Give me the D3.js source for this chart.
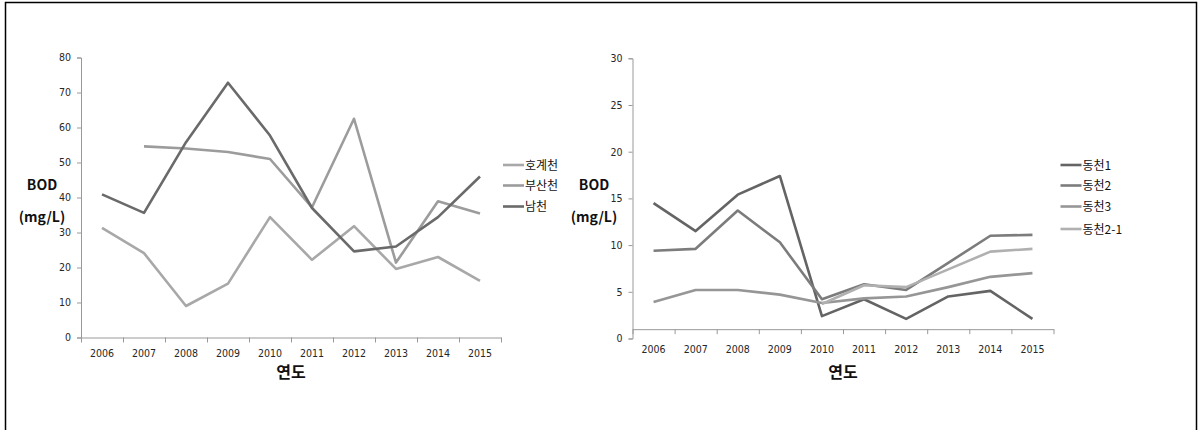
<!DOCTYPE html>
<html>
<head>
<meta charset="utf-8">
<script src="https://cdn.jsdelivr.net/npm/d3@7"></script>
<style>
  body { margin: 0; background: #fff; }
  svg { display: block; }
  .tick text { font-family: "DejaVu Sans Condensed", "Liberation Sans Narrow", "Noto Sans CJK KR", sans-serif; font-stretch: condensed; font-size: 10.5px; fill: #262626; }
  .lab { font-family: "Noto Sans CJK KR", sans-serif; fill: #111; }
</style>
</head>
<body>
<svg id="chart" width="1198" height="430"></svg>
<script>
// years shared by both panels
const years = ['2006', '2007', '2008', '2009', '2010', '2011', '2012', '2013', '2014', '2015'];

// left panel (mg/L)
const hogye  = [31.3, 24.1, 9.0, 15.4, 34.4, 22.2, 31.8, 19.6, 23.0, 16.2];
const busan  = [null, 54.6, 54.0, 53.0, 51.0, 37.2, 62.5, 21.4, 38.9, 35.4];
const namcheon = [40.9, 35.6, 55.8, 72.8, 57.7, 37.0, 24.6, 26.0, 34.4, 46.0];
const leftTicks = [0, 10, 20, 30, 40, 50, 60, 70, 80];

// right panel (mg/L)
const dong1  = [14.5, 11.5, 15.4, 17.4, 2.4, 4.2, 2.1, 4.5, 5.1, 2.1];
const dong2  = [9.4, 9.6, 13.7, 10.3, 4.2, 5.8, 5.2, 8.1, 11.0, 11.1];
const dong3  = [3.9, 5.2, 5.2, 4.7, 3.8, 4.3, 4.5, 5.5, 6.6, 7.0];
const dong21 = [null, null, null, null, 3.7, 5.7, 5.5, 7.4, 9.3, 9.6];
const rightTicks = [0, 5, 10, 15, 20, 25, 30];

const svg = d3.select('#chart');

// frame
svg.append('path')
  .attr('d', 'M5.5,432 V2.5 H1196.5 V432')
  .attr('fill', 'none').attr('stroke', '#000').attr('stroke-width', 1.5);

function panel(opt) {
  const g = svg.append('g');
  const x = d3.scaleBand().domain(years).range([opt.x0, opt.x1]);
  const xb = d3.scaleLinear().domain([0, years.length]).range([opt.x0, opt.x1]);
  const y = d3.scaleLinear().domain([0, opt.max]).range([opt.y0, opt.y1]);
  const axisY = y(opt.cross);

  // y axis
  const ya = g.append('g').attr('transform', `translate(${opt.x0},0)`)
    .call(d3.axisLeft(y).tickValues(opt.ticks).tickSize(4).tickPadding(6));
  ya.selectAll('path, line').attr('stroke', '#999');

  // x axis: tick marks at band edges, labels at centres
  const xa = g.append('g').attr('transform', `translate(0,${axisY})`)
    .call(d3.axisBottom(xb).tickValues(d3.range(years.length + 1)).tickSize(5).tickSizeOuter(0).tickFormat(''));
  xa.selectAll('path, line').attr('stroke', '#999');
  g.append('g').attr('transform', `translate(0,${opt.labelY})`)
    .call(d3.axisBottom(x).tickSize(0).tickPadding(0))
    .call(s => s.select('.domain').remove());

  const line = d3.line()
    .defined(d => d != null)
    .x((d, i) => x(years[i]) + x.bandwidth() / 2)
    .y(d => y(d));

  opt.series.forEach(s => {
    g.append('path').datum(s.values)
      .attr('d', line)
      .attr('fill', 'none')
      .attr('stroke', s.color)
      .attr('stroke-width', 2.6)
      .attr('stroke-linejoin', 'round');
  });

  // legend
  opt.series.forEach((s, i) => {
    const ly = opt.legY[i];
    g.append('line')
      .attr('x1', opt.legX).attr('x2', opt.legX + 21)
      .attr('y1', ly).attr('y2', ly)
      .attr('stroke', s.color).attr('stroke-width', 2.6);
    g.append('text').attr('class', 'lab')
      .attr('x', opt.legX + 22).attr('y', ly + 4.5)
      .style('font-size', '12px')
      .text(s.name);
  });

  // titles
  g.append('text').attr('class', 'lab')
    .attr('x', opt.titleX).attr('y', 190)
    .attr('text-anchor', 'middle')
    .style('font-size', '14px').style('font-weight', 'bold')
    .text('BOD');
  g.append('text').attr('class', 'lab')
    .attr('x', opt.titleX).attr('y', 222)
    .attr('text-anchor', 'middle')
    .style('font-size', '14px').style('font-weight', 'bold')
    .text('(mg/L)');
  g.append('text').attr('class', 'lab')
    .attr('x', (opt.x0 + opt.x1) / 2).attr('y', 378)
    .attr('text-anchor', 'middle')
    .style('font-size', '16px').style('font-weight', 'bold')
    .text('연도');
}

panel({
  x0: 81, x1: 501, y0: 337.5, y1: 57.5, max: 80, cross: 0, ticks: leftTicks,
  labelY: 350, titleX: 42, legX: 503, legY: [165, 185.5, 206.5],
  series: [
    { name: '호계천', values: hogye, color: '#a8a8a8' },
    { name: '부산천', values: busan, color: '#9c9c9c' },
    { name: '남천', values: namcheon, color: '#6a6a6a' }
  ]
});

panel({
  x0: 632.5, x1: 1053.5, y0: 338.5, y1: 58.3, max: 30, cross: 1, ticks: rightTicks,
  labelY: 346, titleX: 594, legX: 1060.5, legY: [165, 185.5, 206.5, 229],
  series: [
    { name: '동천1', values: dong1, color: '#646464' },
    { name: '동천2', values: dong2, color: '#7c7c7c' },
    { name: '동천3', values: dong3, color: '#969696' },
    { name: '동천2-1', values: dong21, color: '#b0b0b0' }
  ]
});
</script>
</body>
</html>
